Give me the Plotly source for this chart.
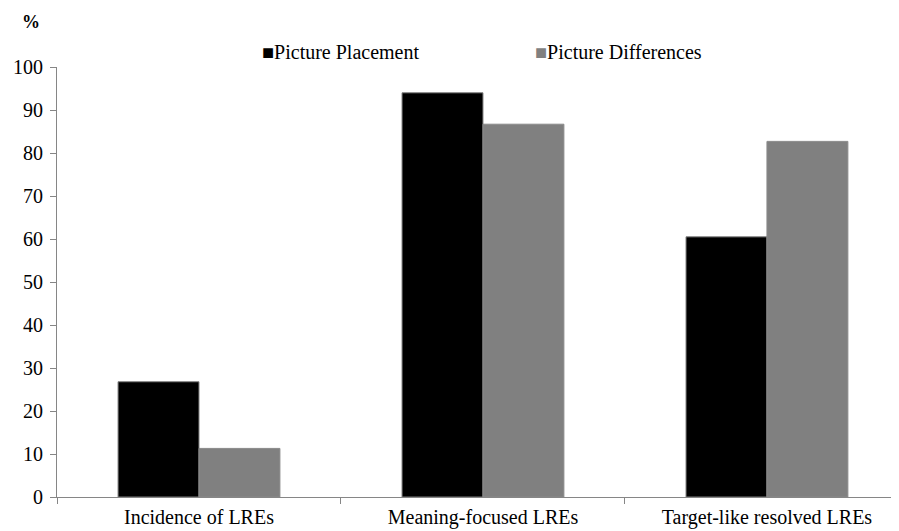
import plotly.graph_objects as go

categories = ["Incidence of LREs", "Meaning-focused LREs", "Target-like resolved LREs"]
series_names = ["Picture Placement", "Picture Differences"]
placement = [26.8, 94.0, 60.5]
differences = [11.3, 86.7, 82.7]
y_ticks = [0, 10, 20, 30, 40, 50, 60, 70, 80, 90, 100]

FONT = "Liberation Serif"
W, H = 891, 523          # page body has an 8px margin
L, T, B, R = 49, 59, 34, 0
PW, PH = W - L - R, H - T - B

fig = go.Figure()
fig.add_trace(go.Bar(x=categories, y=placement, name=series_names[0],
                     marker=dict(color="#000000", line=dict(color="#7f7f7f", width=1))))
fig.add_trace(go.Bar(x=categories, y=differences, name=series_names[1],
                     marker=dict(color="#808080", line=dict(color="#8a8a8a", width=1))))

def px_x(x):  # page x -> paper coords
    return (x - 8 - L) / PW

def px_y(y):
    return (H - B - (y - 8)) / PH

TF = dict(family=FONT, size=20, color="#000000")
fig.update_layout(
    width=W, height=H,
    margin=dict(l=L, r=R, t=T, b=B),
    paper_bgcolor="white", plot_bgcolor="white",
    font=TF,
    barmode="group", bargap=0.43, bargroupgap=0,
    showlegend=False,
    xaxis=dict(range=[-0.5, 2.465], showline=True, linecolor="#868686", linewidth=1,
               ticks="outside", tickson="boundaries", ticklen=6, tickcolor="#868686",
               showgrid=False, tickfont=TF, ticklabelstandoff=2),
    yaxis=dict(range=[0, 100], tickvals=y_ticks, showline=True, linecolor="#868686",
               linewidth=1, ticks="outside", ticklen=6, tickcolor="#868686",
               showgrid=False, zeroline=False, tickfont=TF, ticklabelstandoff=3),
    annotations=[
        dict(text="<b>%</b>", x=px_x(31), y=px_y(22), xref="paper", yref="paper",
             xanchor="center", yanchor="middle", showarrow=False,
             font=dict(family=FONT, size=18, color="#000000")),
        dict(text='<span style="color:#000000">■</span>' + series_names[0],
             x=px_x(260), y=px_y(52), xref="paper", yref="paper",
             xanchor="left", yanchor="middle", showarrow=False, font=TF),
        dict(text='<span style="color:#808080">■</span>' + series_names[1],
             x=px_x(533), y=px_y(52), xref="paper", yref="paper",
             xanchor="left", yanchor="middle", showarrow=False, font=TF),
    ],
)
fig.write_html("out.html")
